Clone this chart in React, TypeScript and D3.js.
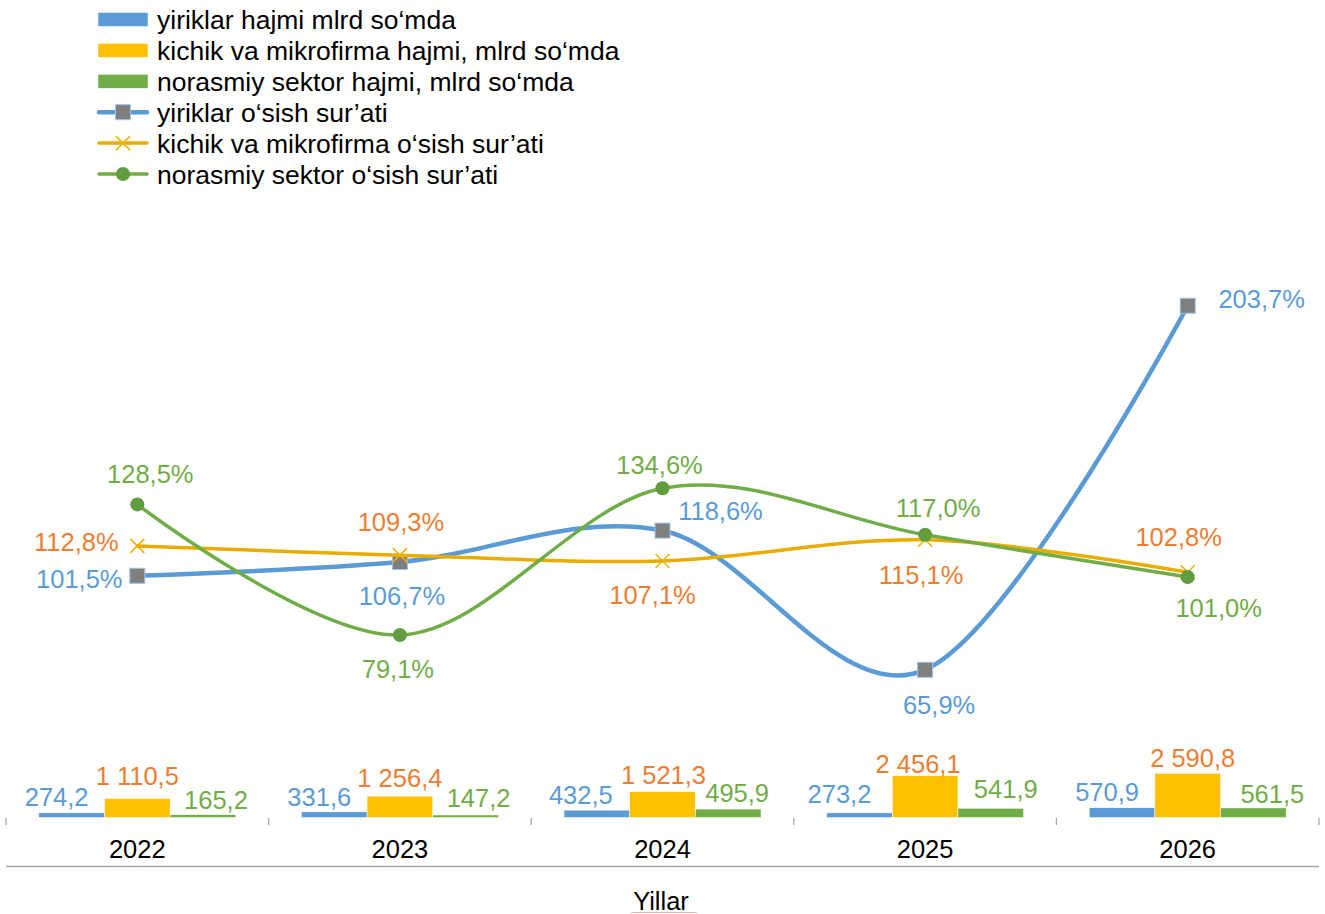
import React from "react";
import * as d3 from "d3";

const years = ["2022", "2023", "2024", "2025", "2026"];

// bar series (mlrd so'm)
const yiriklarHajmi = [274.2, 331.6, 432.5, 273.2, 570.9];
const kichikHajmi = [1110.5, 1256.4, 1521.3, 2456.1, 2590.8];
const norasmiyHajmi = [165.2, 147.2, 495.9, 541.9, 561.5];

// growth rates (%)
const yiriklarOsish = [101.5, 106.7, 118.6, 65.9, 203.7];
const kichikOsish = [112.8, 109.3, 107.1, 115.1, 102.8];
const norasmiyOsish = [128.5, 79.1, 134.6, 117.0, 101.0];

const legendNames = [
  "yiriklar hajmi mlrd so\u2018mda",
  "kichik va mikrofirma hajmi, mlrd so\u2018mda",
  "norasmiy sektor hajmi, mlrd so\u2018mda",
  "yiriklar o\u2018sish sur\u2019ati",
  "kichik va mikrofirma o\u2018sish sur\u2019ati",
  "norasmiy sektor o\u2018sish sur\u2019ati",
];
const axisTitle = "Yillar";

// label placement nudges (annotation layout, not data)
const barLabelNudge = [
  [[-15, -7], [-15, -6], [-16, -6], [-20, -10], [-15, -7]],
  [[0, -14], [0, -9], [1, -8], [-7, -3], [5, -6]],
  [[13, -6], [13, -8], [9, -7], [15, -10], [19, -5]],
];
const lineLabelNudge = [
  [[-58, 12], [2, 43], [58, -11], [14, 44], [74, 2]],
  [[-61, 5], [1, -24], [-10, 43], [-4, 44], [-9, -26]],
  [[13, -21], [-2, 43], [-3, -14], [13, -18], [31, 40]],
];

const FONT = "'Liberation Sans', Arial, sans-serif";
const FS = 25.5;
const LEGEND_FS = 26.5;
const BLUE = "#5B9BD5";
const YELLOW = "#FFC000";
const GOLD = "#E8AD00";
const GREEN = "#70AD47";
const GREEN_DOT = "#629C3F";
const ORANGE = "#ED7D31";

const locale = d3.formatLocale({ decimal: ",", thousands: " ", grouping: [3], currency: ["", ""] });
const fmtBar = locale.format(",.1f");
const fmtPct = (v: number) => v.toFixed(1).replace(".", ",") + "%";

export default function App() {
  const W = 1325, H = 914;
  const plotLeft = 6, plotRight = 1319, plotBottom = 817.5, plotTop = 157;

  const x = d3.scaleBand<string>().domain(years).range([plotLeft, plotRight]).paddingInner(0).paddingOuter(0);
  const bw = x.bandwidth();
  const barSeries = [yiriklarHajmi, kichikHajmi, norasmiyHajmi];
  const barColors = [BLUE, YELLOW, GREEN];
  const barLabelColors = [BLUE, ORANGE, GREEN];
  const x1 = d3.scaleBand<number>().domain([0, 1, 2]).range([0, bw]).paddingInner(0).paddingOuter(0.5);
  const yBar = d3.scaleLinear().domain([0, 38850]).range([plotBottom, plotTop]);
  const yLine = d3.scaleLinear().domain([10, 260]).range([plotBottom, plotTop]);

  const lineSeries = [yiriklarOsish, kichikOsish, norasmiyOsish];
  const lineColors = [BLUE, GOLD, GREEN];
  const lineWidths = [4.5, 3.5, 3.5];
  const lineLabelColors = [BLUE, ORANGE, GREEN];

  const cx = (i: number) => (x(years[i]) as number) + bw / 2;
  const lineGen = d3
    .line<number>()
    .x((_, i) => cx(i))
    .y((d) => yLine(d))
    .curve(d3.curveCardinal.tension(0));

  const marker = (s: number, px: number, py: number, key: string) => {
    if (s === 0)
      return <rect key={key} x={px - 7.5} y={py - 7.5} width={15} height={15} fill="#7F7F7F" stroke="#9DC3E6" strokeWidth={1} />;
    if (s === 1)
      return (
        <g key={key} stroke="#F0B000" strokeWidth={1.5}>
          <line x1={px - 7} y1={py - 7} x2={px + 7} y2={py + 7} />
          <line x1={px - 7} y1={py + 7} x2={px + 7} y2={py - 7} />
        </g>
      );
    return <circle key={key} cx={px} cy={py} r={7} fill={GREEN_DOT} />;
  };

  const ticks = d3.range(years.length + 1).map((i) => plotLeft + i * bw);

  return (
    <svg width={W} height={H} style={{ position: "absolute", left: 0, top: 0, background: "#fff" }} fontFamily={FONT}>
      <rect width={W} height={H} fill="#fff" />
      {/* bars */}
      {barSeries.map((ser, s) =>
        ser.map((v, i) => {
          const bx = (x(years[i]) as number) + (x1(s) as number);
          return (
            <rect key={`b${s}-${i}`} x={bx} y={yBar(v)} width={x1.bandwidth()} height={plotBottom - yBar(v)} fill={barColors[s]} stroke="#fff" strokeWidth={0.5} />
          );
        })
      )}
      {/* ticks */}
      {ticks.map((t, i) => (
        <line key={`t${i}`} x1={t} x2={t} y1={818} y2={825} stroke="#A6A6A6" strokeWidth={1.3} />
      ))}
      <line x1={plotLeft} x2={plotRight} y1={866.5} y2={866.5} stroke="#A6A6A6" strokeWidth={1.5} />
      {years.map((y, i) => (
        <text key={`y${i}`} x={cx(i)} y={858} textAnchor="middle" fontSize={FS} fill="#000">
          {y}
        </text>
      ))}
      <text x={661} y={910} textAnchor="middle" fontSize={FS} fill="#000">
        {axisTitle}
      </text>
      <line x1={631} x2={697} y1={912.5} y2={912.5} stroke="#F4B4B4" strokeWidth={1} />
      {/* lines */}
      {lineSeries.map((ser, s) => (
        <g key={`l${s}`}>
          <path d={lineGen(ser) || ""} fill="none" stroke={lineColors[s]} strokeWidth={lineWidths[s]} strokeLinecap="round" />
          {ser.map((v, i) => marker(s, cx(i), yLine(v), `m${s}-${i}`))}
        </g>
      ))}
      {/* bar labels */}
      {barSeries.map((ser, s) =>
        ser.map((v, i) => {
          const bx = (x(years[i]) as number) + (x1(s) as number) + x1.bandwidth() / 2;
          const [dx, dy] = barLabelNudge[s][i];
          return (
            <text key={`bl${s}-${i}`} x={bx + dx} y={yBar(v) + dy} textAnchor="middle" fontSize={FS} fill={barLabelColors[s]}>
              {fmtBar(v)}
            </text>
          );
        })
      )}
      {/* line labels */}
      {lineSeries.map((ser, s) =>
        ser.map((v, i) => {
          const [dx, dy] = lineLabelNudge[s][i];
          return (
            <text key={`ll${s}-${i}`} x={cx(i) + dx} y={yLine(v) + dy} textAnchor="middle" fontSize={FS} fill={lineLabelColors[s]}>
              {fmtPct(v)}
            </text>
          );
        })
      )}
      {/* legend */}
      {legendNames.map((name, i) => {
        const cy = 19.5 + i * 30.9;
        let sw: React.ReactNode;
        if (i < 3) {
          sw = <rect x={98} y={cy - 7} width={50} height={14} fill={barColors[i]} stroke="#fff" strokeWidth={0.5} />;
        } else {
          const s = i - 3;
          sw = (
            <g>
              <line x1={99} x2={147} y1={cy} y2={cy} stroke={lineColors[s]} strokeWidth={lineWidths[s]} strokeLinecap="round" />
              {marker(s, 123, cy, `lm${s}`)}
            </g>
          );
        }
        return (
          <g key={`lg${i}`}>
            {sw}
            <text x={157} y={cy + 9.5} fontSize={LEGEND_FS} fill="#000">
              {name}
            </text>
          </g>
        );
      })}
    </svg>
  );
}
